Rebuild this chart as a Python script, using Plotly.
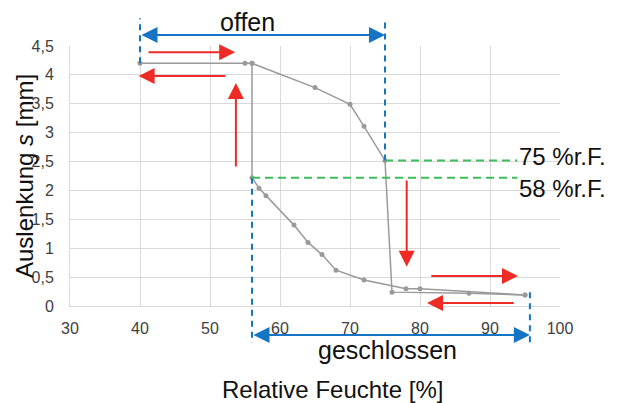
import plotly.graph_objects as go

# ---- data ----
rh_up = [40, 55, 56, 65, 70, 72, 75, 76, 87, 95]
s_up = [4.2, 4.2, 4.2, 3.78, 3.49, 3.11, 2.52, 0.24, 0.22, 0.19]
rh_down = [95, 80, 78, 72, 68, 66, 64, 62, 58, 57, 56, 56]
s_down = [0.19, 0.30, 0.30, 0.45, 0.62, 0.89, 1.10, 1.40, 1.91, 2.04, 2.22, 4.2]

x_ticks = [30, 40, 50, 60, 70, 80, 90, 100]
y_ticks = [0, 0.5, 1, 1.5, 2, 2.5, 3, 3.5, 4, 4.5]
y_tick_labels = ["0", "0,5", "1", "1,5", "2", "2,5", "3", "3,5", "4", "4,5"]

open_rh = [40, 75]          # "offen" range
closed_rh = [56, 95.7]      # "geschlossen" range
thresholds = [("75 %r.F.", 75, 2.52), ("58 %r.F.", 56, 2.22)]

# red direction arrows: (tail_x, tail_y, tip_x, tip_y)
red_arrows = [
    (41.0, 4.39, 53.6, 4.39),
    (52.4, 3.98, 39.8, 3.98),
    (53.7, 2.39, 53.7, 3.86),
    (78.1, 2.20, 78.1, 0.68),
    (81.4, 0.52, 94.0, 0.52),
    (93.6, 0.05, 81.0, 0.05),
]

# ---- layout constants ----
W, H = 617, 403
ML, MR, MT, MB = 70, 57, 46, 97
XR = [30, 100]
YR = [0, 4.5]
PW, PH = W - ML - MR, H - MT - MB

def xp(v):
    return (v - XR[0]) / (XR[1] - XR[0])

def yp(v):
    return (v - YR[0]) / (YR[1] - YR[0])

FONT = "Liberation Sans, Arial, sans-serif"
BLUE = "#1574C4"
RED = "#EE2B24"
GREEN = "#3DBE5A"
GRAY = "#9A9A9A"
TXT = "#111111"

fig = go.Figure()
for xs, ys in [(rh_up, s_up), (rh_down, s_down)]:
    fig.add_trace(go.Scatter(
        x=xs, y=ys, mode="lines+markers",
        line=dict(color=GRAY, width=1.5),
        marker=dict(color=GRAY, size=5),
        showlegend=False, hoverinfo="skip"))

shapes = []
annotations = []

# blue dashed verticals
top_y, bot_y = 4.98, -0.64
for xv, y0 in [(open_rh[0], 4.2), (open_rh[1], 2.52)]:
    shapes.append(dict(type="line", xref="paper", yref="paper",
                       x0=xp(xv), x1=xp(xv), y0=yp(y0), y1=yp(top_y),
                       line=dict(color=BLUE, width=2, dash="6px,5px")))
for xv, y0 in [(closed_rh[0], 2.22), (closed_rh[1], 0.24)]:
    shapes.append(dict(type="line", xref="paper", yref="paper",
                       x0=xp(xv), x1=xp(xv), y0=yp(y0), y1=yp(bot_y),
                       line=dict(color=BLUE, width=2, dash="6px,5px")))

# green dashed threshold lines + labels
for label, xv, yv in thresholds:
    shapes.append(dict(type="line", xref="x", yref="y",
                       x0=xv, x1=93.9, y0=yv, y1=yv,
                       line=dict(color=GREEN, width=2, dash="8px,5px")))
annotations.append(dict(text="75 %r.F.", x=93.9, y=2.58, xref="x", yref="y",
                        xanchor="left", yanchor="middle", showarrow=False,
                        font=dict(family=FONT, size=24, color=TXT)))
annotations.append(dict(text="58 %r.F.", x=93.9, y=2.04, xref="x", yref="y",
                        xanchor="left", yanchor="middle", showarrow=False,
                        font=dict(family=FONT, size=24, color=TXT)))

# blue double arrows
for (a, b), yv in [(open_rh, 4.69), (closed_rh, -0.50)]:
    length_px = (b - a) / (XR[1] - XR[0]) * PW
    annotations.append(dict(text="", x=xp(b), y=yp(yv), xref="paper", yref="paper",
                            ax=-length_px, ay=0, showarrow=True,
                            arrowside="end+start", arrowhead=2, startarrowhead=2,
                            arrowsize=1.6, startarrowsize=1.6,
                            arrowwidth=2, arrowcolor=BLUE, standoff=0, startstandoff=0))
annotations.append(dict(text="offen", x=xp(55.3), y=yp(4.91), xref="paper", yref="paper",
                        showarrow=False, xanchor="center", yanchor="middle",
                        font=dict(family=FONT, size=25, color=TXT)))
annotations.append(dict(text="geschlossen", x=xp(75.3), y=yp(-0.76), xref="paper", yref="paper",
                        showarrow=False, xanchor="center", yanchor="middle",
                        font=dict(family=FONT, size=25, color=TXT)))

# red arrows
for tx, ty, hx, hy in red_arrows:
    annotations.append(dict(text="", x=hx, y=hy, ax=tx, ay=ty,
                            xref="x", yref="y", axref="x", ayref="y",
                            showarrow=True, arrowhead=2, arrowsize=1.6,
                            arrowwidth=2, arrowcolor=RED, standoff=0))

# axis titles
annotations.append(dict(text="Relative Feuchte [%]", x=(332 - ML) / PW, y=-(389 - MT - PH) / PH,
                        xref="paper", yref="paper", showarrow=False,
                        xanchor="center", yanchor="middle",
                        font=dict(family=FONT, size=24, color=TXT)))
annotations.append(dict(text="Auslenkung <i>s</i> [mm]", x=-(ML - 24) / PW, y=0.5,
                        xref="paper", yref="paper", showarrow=False, textangle=-90,
                        xanchor="center", yanchor="middle",
                        font=dict(family=FONT, size=24, color=TXT)))

fig.update_layout(
    width=W, height=H,
    margin=dict(l=ML, r=MR, t=MT, b=MB, pad=0),
    paper_bgcolor="white", plot_bgcolor="white",
    shapes=shapes, annotations=annotations,
    xaxis=dict(range=XR, tickvals=x_ticks, showgrid=True, gridcolor="#D9D9D9",
               gridwidth=1, zeroline=False, showline=True, linecolor="#D9D9D9",
               mirror=False, ticks="", ticklabelstandoff=8,
               tickfont=dict(family=FONT, size=16, color="#404040")),
    yaxis=dict(range=YR, tickvals=y_ticks, ticktext=y_tick_labels, showgrid=True,
               gridcolor="#D9D9D9", gridwidth=1, zeroline=False, showline=True,
               linecolor="#D9D9D9", ticks="", ticklabelstandoff=12,
               tickfont=dict(family=FONT, size=16, color="#404040")),
)

fig.write_html("out.html", config={"displayModeBar": False},
               post_script="document.body.style.margin='0';document.body.style.overflow='hidden';")
